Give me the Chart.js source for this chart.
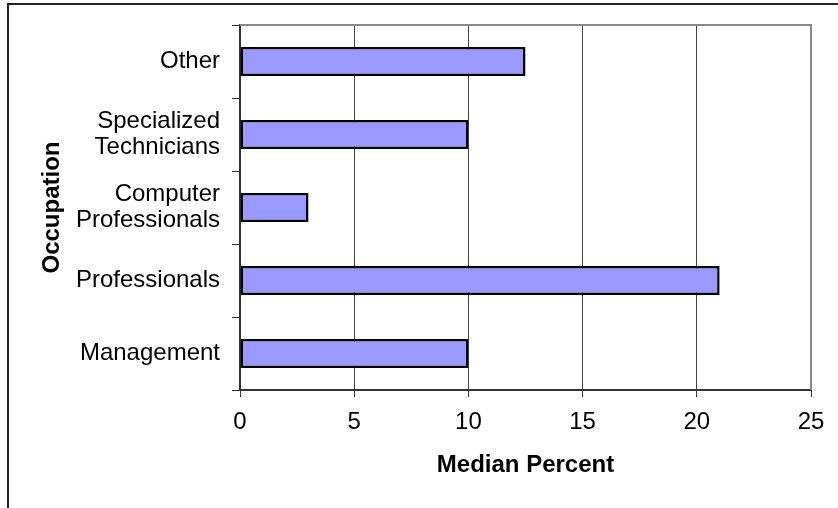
<!DOCTYPE html>
<html>
<head>
<meta charset="utf-8">
<script src="https://cdn.jsdelivr.net/npm/chart.js@4"></script>
<style>
  html, body { margin: 0; padding: 0; background: #fff; }
  #wrap { width: 838px; height: 508px; position: relative; }
</style>
</head>
<body>
<div id="wrap"><canvas id="c" width="838" height="508"></canvas></div>
<script>
const categories = ['Other', ['Specialized', 'Technicians'], ['Computer', 'Professionals'], 'Professionals', 'Management'];
const medianPercent = [12.5, 10, 3, 21, 10];
const xTicks = [0, 5, 10, 15, 20, 25];
const xTitle = 'Median Percent';
const yTitle = 'Occupation';

const FONT = "'Liberation Sans', Arial, sans-serif";

const framePlugin = {
  id: 'frame',
  afterDraw(chart) {
    const ctx = chart.ctx;
    const a = chart.chartArea;
    ctx.save();
    // outer frame (top & left)
    ctx.strokeStyle = '#222';
    ctx.lineWidth = 2;
    ctx.beginPath();
    ctx.moveTo(8, 508);
    ctx.lineTo(8, 4);
    ctx.lineTo(838, 4);
    ctx.stroke();
    // plot area top & right border
    ctx.strokeStyle = '#888';
    ctx.lineWidth = 2;
    ctx.beginPath();
    ctx.moveTo(a.left, a.top);
    ctx.lineTo(a.right, a.top);
    ctx.lineTo(a.right, a.bottom);
    ctx.stroke();
    ctx.restore();
  }
};

new Chart(document.getElementById('c'), {
  type: 'bar',
  data: {
    labels: categories,
    datasets: [{
      data: medianPercent,
      backgroundColor: '#9999FF',
      borderColor: '#000',
      borderWidth: 2.5,
      borderSkipped: false,
      barPercentage: 0.4,
      categoryPercentage: 1.0
    }]
  },
  options: {
    indexAxis: 'y',
    responsive: false,
    animation: false,
    layout: { padding: { left: 0, top: 25, right: 27, bottom: 0 } },
    plugins: { legend: { display: false }, tooltip: { enabled: false } },
    scales: {
      x: {
        type: 'linear',
        min: 0,
        max: 25,
        afterBuildTicks(scale) { scale.ticks = xTicks.map(v => ({ value: v })); },
        afterFit(scale) { scale.height = 508 - 390; },
        ticks: {
          color: '#000',
          font: { family: FONT, size: 24 },
          padding: 11
        },
        grid: {
          color: '#444',
          lineWidth: 1,
          tickLength: 7,
          tickColor: '#333',
          drawOnChartArea: true
        },
        border: { display: true, color: '#333', width: 2 },
        title: {
          display: true,
          text: xTitle,
          color: '#000',
          font: { family: FONT, size: 24, weight: 'bold' },
          padding: { top: 0, bottom: 28 }
        }
      },
      y: {
        afterFit(scale) { scale.width = 240; },
        ticks: {
          color: '#000',
          font: { family: FONT, size: 24, lineHeight: 1.08 },
          padding: 12
        },
        grid: {
          display: true,
          drawOnChartArea: false,
          offset: true,
          tickLength: 8,
          tickColor: '#333',
          color: '#333'
        },
        border: { display: true, color: '#333', width: 2 },
        title: {
          display: true,
          text: yTitle,
          color: '#000',
          font: { family: FONT, size: 24, weight: 'bold' },
          padding: { top: 38, bottom: 0 }
        }
      }
    }
  },
  plugins: [framePlugin]
});
</script>
</body>
</html>
